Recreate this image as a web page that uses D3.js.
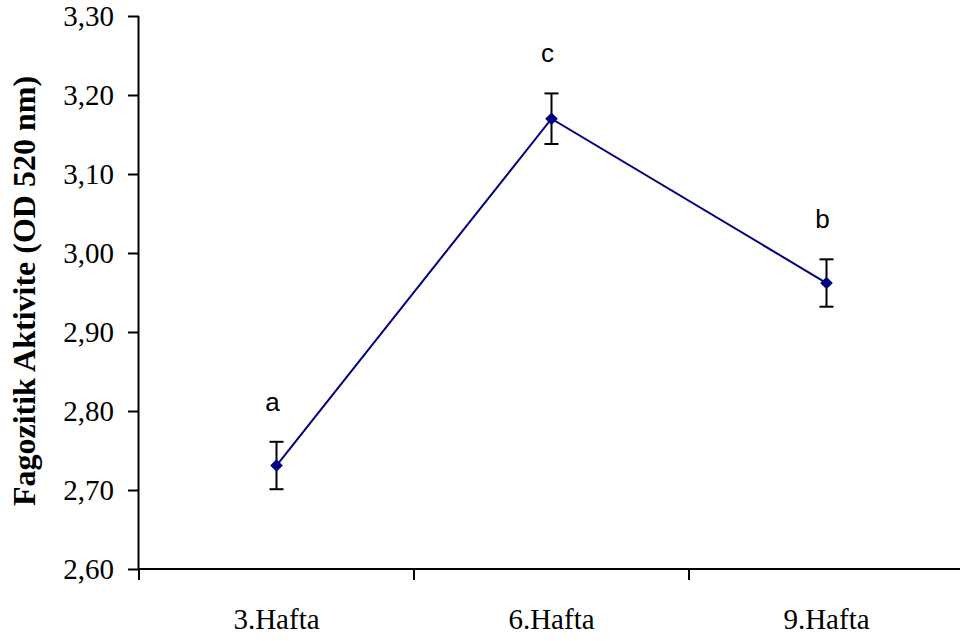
<!DOCTYPE html>
<html>
<head>
<meta charset="utf-8">
<script src="https://cdn.jsdelivr.net/npm/d3@7"></script>
<style>
  body { margin: 0; background: #fff; }
  svg { display: block; }
</style>
</head>
<body>
<div id="chart"></div>
<script>
// Chart data
var weeks = ["3.Hafta", "6.Hafta", "9.Hafta"];
var means = [2.731, 3.170, 2.962];
var errors = [0.030, 0.032, 0.030];
var letters = ["a", "c", "b"];
var yTicks = [2.6, 2.7, 2.8, 2.9, 3.0, 3.1, 3.2, 3.3];

var svgWidth = 960;
var svgHeight = 641;

var margin = { top: 16, right: -4, bottom: 72, left: 139 };
var width = svgWidth - margin.left - margin.right;
var height = svgHeight - margin.top - margin.bottom;

var svg = d3.select("#chart")
  .append("svg")
  .attr("width", svgWidth)
  .attr("height", svgHeight);

var chartGroup = svg.append("g")
  .attr("transform", `translate(${margin.left}, ${margin.top})`);

var data = weeks.map(function(w, i) {
  return { week: w, mean: means[i], err: errors[i], letter: letters[i] };
});

// scales
var xBand = d3.scaleBand()
  .domain(weeks)
  .range([0, width]);

var yScale = d3.scaleLinear()
  .domain([2.6, 3.3])
  .range([height, 0]);

var cx = d => xBand(d.week) + xBand.bandwidth() / 2;

// y axis
var leftAxis = d3.axisLeft(yScale)
  .tickValues(yTicks)
  .tickSize(11)
  .tickPadding(14)
  .tickFormat(d => d3.format(".2f")(d).replace(".", ","));

var yAxisG = chartGroup.append("g").call(leftAxis);
yAxisG.select(".domain").attr("d", `M-0.5,0V${height}`);

// x axis
var bottomAxis = d3.axisBottom(xBand)
  .tickSize(0)
  .tickPadding(39);

var xAxisG = chartGroup.append("g")
  .attr("transform", `translate(0, ${height})`)
  .call(bottomAxis);
xAxisG.select(".domain").attr("d", `M0,0H${width}`);

// category separator ticks
xAxisG.selectAll(".sep")
  .data(weeks)
  .enter()
  .append("line")
  .attr("class", "sep")
  .attr("x1", d => xBand(d))
  .attr("x2", d => xBand(d))
  .attr("y1", 0)
  .attr("y2", 11)
  .attr("stroke", "#000")
  .attr("stroke-width", 2);

chartGroup.selectAll(".domain, .tick line")
  .attr("stroke", "#000")
  .attr("stroke-width", 2);

chartGroup.selectAll(".tick text")
  .attr("fill", "#000")
  .style("font-family", "'Liberation Serif', 'Times New Roman', serif")
  .style("font-size", "29px");

// line
var line = d3.line()
  .x(cx)
  .y(d => yScale(d.mean));

chartGroup.append("path")
  .datum(data)
  .attr("fill", "none")
  .attr("stroke", "#000080")
  .attr("stroke-width", 2)
  .attr("d", line);

// error bars
var capW = 7;
var eb = chartGroup.selectAll(".err")
  .data(data)
  .enter()
  .append("g")
  .attr("class", "err")
  .attr("stroke", "#000")
  .attr("stroke-width", 2);

eb.append("line")
  .attr("x1", cx).attr("x2", cx)
  .attr("y1", d => yScale(d.mean + d.err))
  .attr("y2", d => yScale(d.mean - d.err));
eb.append("line")
  .attr("x1", d => cx(d) - capW).attr("x2", d => cx(d) + capW)
  .attr("y1", d => yScale(d.mean + d.err))
  .attr("y2", d => yScale(d.mean + d.err));
eb.append("line")
  .attr("x1", d => cx(d) - capW).attr("x2", d => cx(d) + capW)
  .attr("y1", d => yScale(d.mean - d.err))
  .attr("y2", d => yScale(d.mean - d.err));

// diamond markers (square turned 45 degrees)
chartGroup.selectAll(".marker")
  .data(data)
  .enter()
  .append("path")
  .attr("class", "marker")
  .attr("d", d3.symbol().type(d3.symbolSquare).size(80))
  .attr("transform", d => `translate(${cx(d)}, ${yScale(d.mean)}) rotate(45)`)
  .attr("fill", "#000080");

// significance letters
chartGroup.selectAll(".letter")
  .data(data)
  .enter()
  .append("text")
  .attr("class", "letter")
  .attr("x", d => cx(d) - 4)
  .attr("y", d => yScale(d.mean + d.err) - 31)
  .attr("text-anchor", "middle")
  .style("font-family", "'Liberation Sans', Arial, sans-serif")
  .style("font-size", "26px")
  .text(d => d.letter);

// y axis title
svg.append("text")
  .attr("transform", "translate(35, 291) rotate(-90)")
  .attr("text-anchor", "middle")
  .style("font-family", "'Liberation Serif', 'Times New Roman', serif")
  .style("font-size", "32px")
  .style("font-weight", "bold")
  .text("Fagozitik Aktivite (OD 520 nm)");
</script>
</body>
</html>
